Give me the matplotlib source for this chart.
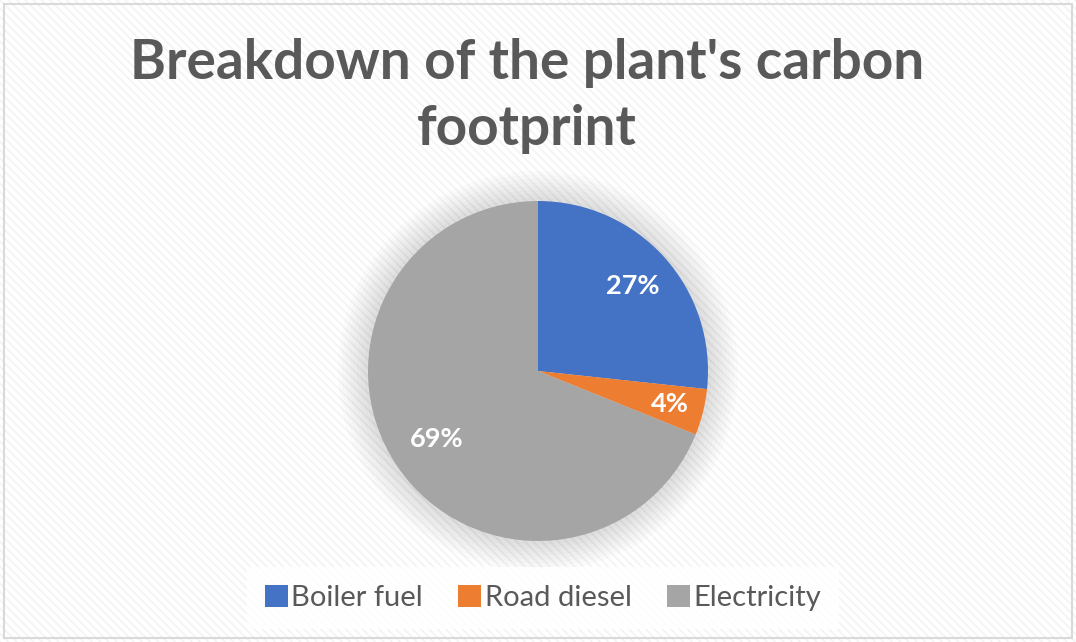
import numpy as np
import matplotlib.pyplot as plt
from matplotlib.patches import Rectangle, Circle

# values
labels = ['Boiler fuel', 'Road diesel', 'Electricity']
shares = [26.7, 4.4, 68.9]
colors = ['#4472C4', '#ED7D31', '#A5A5A5']
title = "Breakdown of the plant's carbon\nfootprint"

W, H = 1076, 642
plt.rcParams['font.family'] = ['Lato', 'DejaVu Sans']
plt.rcParams['hatch.linewidth'] = 1.2
plt.rcParams['hatch.color'] = '#f3f3f3'

fig = plt.figure(figsize=(W / 100, H / 100), dpi=100)

# striped background + thin border
bg = Rectangle((0, 0), 1, 1, transform=fig.transFigure, facecolor='white',
               edgecolor='#f3f3f3', hatch='\\\\\\\\', linewidth=0, zorder=-10)
fig.patches.append(bg)
border = Rectangle((4 / W, 4 / H), 1 - 8 / W, 1 - 8 / H, transform=fig.transFigure,
                   fill=False, edgecolor='#d9d9d9', linewidth=1.5, zorder=-5)
fig.patches.append(border)

# pie axes: centre (538, 371), radius 170 px
cx, cy, r = 538, 371, 170
span = 1.2
ax = fig.add_axes([(cx - span * r) / W, (H - cy - span * r) / H, 2 * span * r / W, 2 * span * r / H])
ax.set_xlim(-span, span)
ax.set_ylim(-span, span)
ax.set_aspect('equal')
ax.axis('off')

# soft glow behind the pie
for k in range(8):
    ax.add_patch(Circle((0, 0), 1.0 + 0.022 * (k + 1), facecolor='#000000', alpha=0.016,
                        edgecolor='none', zorder=0))

wedges, texts, autotexts = ax.pie(shares, colors=colors, startangle=90, counterclock=False,
                                  autopct=lambda p: '%d%%' % round(p), pctdistance=0.75,
                                  radius=1.0, wedgeprops=dict(linewidth=0),
                                  textprops=dict(color='white', fontsize=19.5, fontweight='bold'))
for w in wedges:
    w.set_zorder(2)
# tweak label radii like the original
for w, t, d in zip(wedges, autotexts, [0.75, 0.80, 0.72]):
    a = np.deg2rad((w.theta1 + w.theta2) / 2)
    t.set_position((d * np.cos(a), d * np.sin(a)))
    t.set_zorder(3)
ax.set_xlim(-span, span)
ax.set_ylim(-span, span)

fig.text(527 / W, 1 - 96 / H, title, ha='center', va='center', fontsize=39.5,
         fontweight='bold', color='#595959', linespacing=1.38)

leg = fig.legend(wedges, labels, loc='center', bbox_to_anchor=(543 / W, 1 - 598 / H),
                 ncol=3, frameon=True, fontsize=21, handlelength=0.8, handleheight=0.8,
                 handletextpad=0.12, columnspacing=1.2, borderpad=0.3)
leg.get_frame().set_facecolor('white')
leg.get_frame().set_edgecolor('none')
leg.get_frame().set_alpha(0.9)
leg.get_frame().set_boxstyle('square', pad=0.3)
for t in leg.get_texts():
    t.set_color('#595959')

fig.savefig('out.png', dpi=100)
